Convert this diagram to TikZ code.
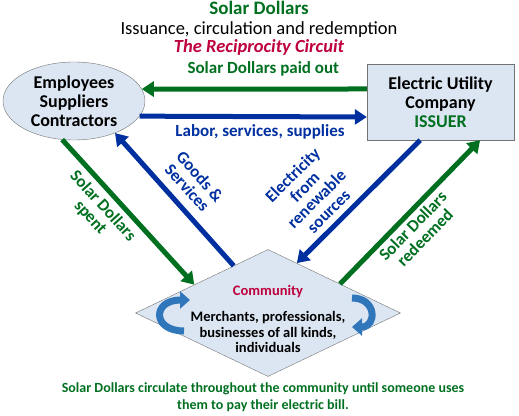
\documentclass[tikz,border=0pt]{standalone}
\usepackage{fontspec}
\setmainfont{Carlito}
\usetikzlibrary{shapes.geometric,arrows.meta}
\definecolor{sdgreen}{RGB}{0,112,32}
\definecolor{sdblue}{RGB}{0,48,160}
\definecolor{sdred}{RGB}{190,0,60}
\definecolor{sdfill}{RGB}{220,230,242}
\definecolor{sdswirl}{RGB}{48,118,186}
\tikzset{
  flow/.style={line width=5pt,-{Triangle[length=12pt,width=15pt]}},
  money/.style={flow,draw=sdgreen},
  goods/.style={flow,draw=sdblue},
  lbl/.style={font=\fontsize{17}{17}\selectfont\bfseries,align=center,inner sep=2pt},
  nodetext/.style={font=\fontsize{18}{19}\selectfont\bfseries,align=center},
  swirl/.style={line width=7pt,draw=sdswirl,-{Triangle[length=10pt,width=17pt]}},
}
\begin{document}
\begin{tikzpicture}[x=1pt,y=1pt]
\useasboundingbox (0,0) rectangle (519,415);
% titles
\node[anchor=base,text=sdgreen,font=\fontsize{19}{19}\selectfont\bfseries] (title) at (259,400) {Solar Dollars};
\node[anchor=base,font=\fontsize{18.5}{19}\selectfont] (subtitle) at (259,380) {Issuance, circulation and redemption};
\node[anchor=base,text=sdred,font=\fontsize{18.5}{19}\selectfont\bfseries\itshape] (circuit) at (259,362) {The Reciprocity Circuit};
% the three parties
\node[ellipse,draw=black!55,fill=sdfill,minimum width=142,minimum height=78,inner sep=0pt] (emp) at (74,314) {};
\node[nodetext] (empText) at (emp) {Employees\\Suppliers\\Contractors};
\node[draw=black!55,fill=sdfill,minimum width=147,minimum height=76,inner sep=0pt,nodetext] (util) at (440.5,313) {Electric Utility\\Company\\\textcolor{sdgreen}{ISSUER}};
\node[diamond,draw=black!55,fill=sdfill,minimum width=265,minimum height=127,inner sep=0pt] (comm) at (268,102) {};
\node[text=sdred,font=\fontsize{14.5}{15}\selectfont\bfseries] (commTitle) at (268,123) {Community};
\node[font=\fontsize{14.5}{15.5}\selectfont\bfseries,align=center] (commText) at (268,83) {Merchants, professionals,\\businesses of all kinds,\\individuals};
% circulation inside the community
\draw[swirl] (184,84) .. controls (152,84) and (152,115) .. (190,115);
\draw[swirl] (352,117) .. controls (377,117) and (377,88) .. (352,88);
% flows
\draw[money] ([yshift=13pt]util.west) -- node[lbl,text=sdgreen,above=8pt,pos=.46] (paid) {Solar Dollars paid out} (emp.10);
\draw[goods] (emp.-13) -- node[lbl,text=sdblue,below=3pt,pos=.53] (labor) {Labor, services, supplies} ([yshift=-15pt]util.west);
\draw[money] (emp.-107) -- node[lbl,text=sdgreen,sloped,below=3pt,pos=.39] (spent) {Solar Dollars\\spent} (comm.159.5);
\draw[goods] (comm.126.7) -- node[lbl,text=sdblue,sloped,above=7pt,pos=.5] (services) {Goods \&\\Services} (emp.-38);
\draw[goods] (util.-118) -- node[lbl,text=sdblue,sloped,above=4pt,pos=.66] (power) {Electricity\\from\\renewable\\sources} (comm.60);
\draw[money] (comm.22.5) -- node[lbl,text=sdgreen,sloped,below=1pt,pos=.46] (redeemed) {Solar Dollars\\redeemed} (util.-44);
% note
\node[font=\fontsize{14}{17}\selectfont\bfseries,text=sdgreen,align=center] (note) at (263,17.5) {Solar Dollars circulate throughout the community until someone uses\\them to pay their electric bill.};
\end{tikzpicture}
\end{document}
